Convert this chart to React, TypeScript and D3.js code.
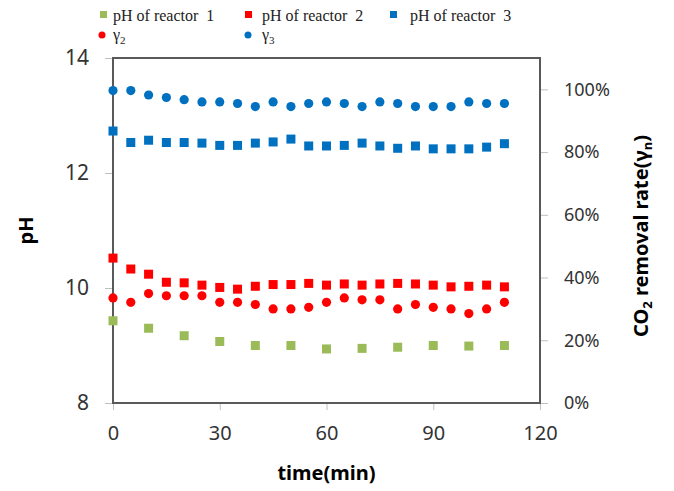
import * as d3 from "d3";
import { useRef, useEffect } from "react";

const times = [0, 5, 10, 15, 20, 25, 30, 35, 40, 45, 50, 55, 60, 65, 70, 75, 80, 85, 90, 95, 100, 105, 110];
const times1 = [0, 10, 20, 30, 40, 50, 60, 70, 80, 90, 100, 110];

const ph1 = [9.43, 9.3, 9.17, 9.07, 9.0, 9.0, 8.94, 8.95, 8.97, 9.0, 8.99, 9.0];
const ph2 = [10.52, 10.33, 10.24, 10.1, 10.09, 10.05, 10.01, 9.98, 10.03, 10.06, 10.06, 10.08, 10.05, 10.07, 10.05, 10.07, 10.08, 10.07, 10.05, 10.02, 10.03, 10.05, 10.02];
const ph3 = [12.73, 12.53, 12.57, 12.53, 12.53, 12.52, 12.48, 12.48, 12.52, 12.54, 12.59, 12.47, 12.47, 12.48, 12.52, 12.47, 12.43, 12.47, 12.42, 12.42, 12.42, 12.45, 12.51];
const gamma2 = [0.335, 0.321, 0.349, 0.342, 0.342, 0.342, 0.321, 0.321, 0.314, 0.3, 0.3, 0.305, 0.321, 0.335, 0.329, 0.329, 0.3, 0.314, 0.305, 0.3, 0.285, 0.3, 0.321];
const gamma3 = [0.996, 0.996, 0.982, 0.974, 0.967, 0.96, 0.96, 0.955, 0.945, 0.96, 0.945, 0.955, 0.96, 0.955, 0.945, 0.96, 0.955, 0.945, 0.945, 0.945, 0.96, 0.955, 0.955];

const xTicks = [0, 30, 60, 90, 120];
const phTicks = [8, 10, 12, 14];
const rateTicks = [0, 0.2, 0.4, 0.6, 0.8, 1.0];

const GREEN = "#9bbb59";
const RED = "#ff0000";
const BLUE = "#0070c0";

const width = 674;
const height = 491;
const marginLeft = 113;
const marginRight = 134;
const marginTop = 58;
const marginBottom = 88;

const sans = "'Noto Sans', 'Open Sans', sans-serif";

export default function App() {
  const gx = useRef<SVGGElement | null>(null);
  const gy = useRef<SVGGElement | null>(null);
  const gy2 = useRef<SVGGElement | null>(null);

  const x = d3.scaleLinear().domain([0, 120]).range([marginLeft, width - marginRight]);
  const y = d3.scaleLinear().domain([8, 14]).range([height - marginBottom, marginTop]);
  const y2 = d3.scaleLinear().domain([0, 1.1]).range([height - marginBottom, marginTop]);

  useEffect(() => {
    const style = (g: d3.Selection<SVGGElement, unknown, null, undefined>) => {
      g.select(".domain").remove();
      g.selectAll(".tick line").attr("stroke", "#bfbfbf").attr("stroke-width", 1);
      g.selectAll(".tick text").attr("fill", "#333").attr("font-family", sans);
    };
    if (gx.current) {
      const g = d3.select(gx.current);
      g.call(d3.axisBottom(x).tickValues(xTicks).tickSize(7).tickPadding(16));
      style(g);
      g.selectAll(".tick text").attr("font-size", 20);
    }
    if (gy.current) {
      const g = d3.select(gy.current);
      g.call(d3.axisLeft(y).tickValues(phTicks).tickFormat(d3.format("d")).tickSize(8).tickPadding(16));
      style(g);
      g.selectAll(".tick text").attr("font-size", 21);
    }
    if (gy2.current) {
      const g = d3.select(gy2.current);
      g.call(d3.axisRight(y2).tickValues(rateTicks).tickFormat(d3.format(".0%")).tickSize(8).tickPadding(16));
      style(g);
      g.selectAll(".tick text").attr("font-size", 18);
    }
  }, [x, y, y2]);

  const sq = 9;
  const r = 4.6;

  return (
    <svg width={width} height={height} style={{ position: "absolute", left: 0, top: 0, background: "#fff" }}>
      <g ref={gx} transform={`translate(0,${height - marginBottom})`} />
      <g ref={gy} transform={`translate(${marginLeft},0)`} />
      <g ref={gy2} transform={`translate(${width - marginRight},0)`} />
      <rect
        x={marginLeft}
        y={marginTop}
        width={width - marginLeft - marginRight}
        height={height - marginTop - marginBottom}
        fill="none"
        stroke="#595959"
        strokeWidth={2}
      />

      {times1.map((t, i) => (
        <rect key={`p1${i}`} x={x(t) - sq / 2} y={y(ph1[i]) - sq / 2} width={sq} height={sq} fill={GREEN} />
      ))}
      {times.map((t, i) => (
        <rect key={`p2${i}`} x={x(t) - sq / 2} y={y(ph2[i]) - sq / 2} width={sq} height={sq} fill={RED} />
      ))}
      {times.map((t, i) => (
        <rect key={`p3${i}`} x={x(t) - sq / 2} y={y(ph3[i]) - sq / 2} width={sq} height={sq} fill={BLUE} />
      ))}
      {times.map((t, i) => (
        <circle key={`g2${i}`} cx={x(t)} cy={y2(gamma2[i])} r={r} fill={RED} />
      ))}
      {times.map((t, i) => (
        <circle key={`g3${i}`} cx={x(t)} cy={y2(gamma3[i])} r={r} fill={BLUE} />
      ))}

      {/* legend */}
      <g fontFamily="'Liberation Serif', 'Times New Roman', serif" fontSize={16} fill="#222">
        <rect x={100} y={11} width={7} height={7} fill={GREEN} />
        <text x={113} y={21} xmlSpace="preserve">pH of reactor  1</text>
        <rect x={245} y={11} width={7} height={7} fill={RED} />
        <text x={262} y={21} xmlSpace="preserve">pH of reactor  2</text>
        <rect x={390} y={11} width={7} height={7} fill={BLUE} />
        <text x={410} y={21} xmlSpace="preserve">pH of reactor  3</text>
        <circle cx={102} cy={35} r={3.5} fill={RED} />
        <text x={113} y={40}>γ<tspan fontSize={11} dy={4}>2</tspan></text>
        <circle cx={248} cy={35} r={3.5} fill={BLUE} />
        <text x={262} y={40}>γ<tspan fontSize={11} dy={4}>3</tspan></text>
      </g>

      <text
        transform={`translate(33,${(marginTop + height - marginBottom) / 2}) rotate(-90)`}
        textAnchor="middle"
        fontFamily={sans}
        fontWeight="bold"
        fontSize={20}
        fill="#000"
      >
        pH
      </text>
      <text
        transform={`translate(648,236) rotate(-90)`}
        textAnchor="middle"
        fontFamily={sans}
        fontWeight="bold"
        fontSize={20}
        fill="#000"
      >
        CO<tspan fontSize={13} dy={4}>2</tspan>
        <tspan dy={-4}> removal rate(γ</tspan>
        <tspan fontSize={13} dy={4}>n</tspan>
        <tspan dy={-4}>)</tspan>
      </text>
      <text
        x={(marginLeft + width - marginRight) / 2}
        y={480}
        textAnchor="middle"
        fontFamily={sans}
        fontWeight="bold"
        fontSize={20}
        fill="#000"
      >
        time(min)
      </text>
    </svg>
  );
}
